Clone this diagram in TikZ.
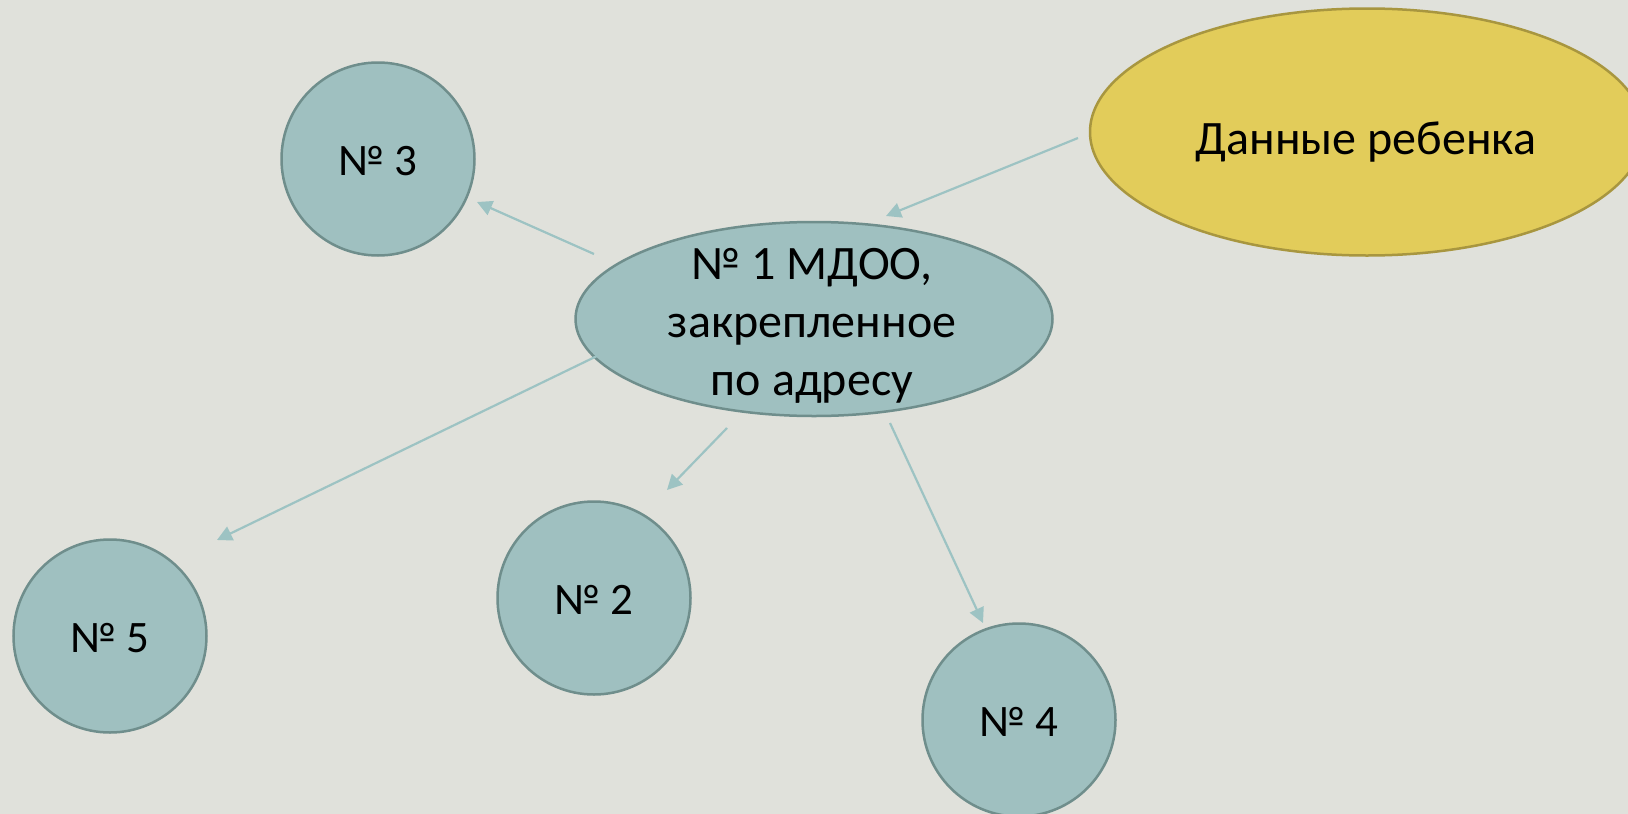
\documentclass[tikz,border=0pt]{standalone}
\usepackage{fontspec}
\setmainfont{Carlito}
\usetikzlibrary{shapes.geometric,arrows.meta}
\definecolor{bg}{HTML}{E0E1DB}
\definecolor{tealfill}{HTML}{9FC0C0}
\definecolor{tealdraw}{HTML}{6F8E8C}
\definecolor{arrowc}{HTML}{9DC3C3}
\definecolor{yfill}{HTML}{E2CC5A}
\definecolor{ydraw}{HTML}{A8963F}
\begin{document}
\begin{tikzpicture}[x=1pt,y=-1pt,
  circ/.style={circle, fill=tealfill, draw=tealdraw, line width=2.5pt,
    minimum size=193pt, inner sep=0pt, font=\fontsize{45}{54}\selectfont,
    text height=32pt, text depth=0pt},
  mainell/.style={ellipse, fill=tealfill, draw=tealdraw, line width=2.5pt,
    minimum width=477pt, minimum height=194pt, inner sep=0pt},
  yell/.style={ellipse, fill=yfill, draw=ydraw, line width=2.5pt,
    minimum width=554pt, minimum height=247pt, inner sep=0pt},
  bigtxt/.style={font=\fontsize{48}{58}\selectfont, align=center, inner sep=0pt},
  conn/.style={draw=arrowc, line width=2.2pt,
    -{Triangle[length=15pt,width=15pt]}}
]
\fill[bg] (0,0) rectangle (1628,814);
\useasboundingbox (0,0) rectangle (1628,814);

% nodes
\node[yell] (data) at (1367,132) {};
\node[bigtxt, anchor=base] (datatxt) at (1366,154) {Данные ребенка};
\node[mainell] (main) at (814,319) {};
\node[bigtxt] (maintxt) at (812,326) {№ 1 МДОО,\\закрепленное\\по адресу};
\node[circ] (n3) at (378,159) {№ 3};
\node[circ] (n5) at (110,636) {№ 5};
\node[circ] (n2) at (594,598) {№ 2};
\node[circ] (n4) at (1019,720) {№ 4};

% connector end points
\coordinate (d0) at (1078,138);
\coordinate (d1) at (886,216);
\coordinate (a3s) at (594,254);
\coordinate (a3e) at (477,202);
\coordinate (a5s) at (597,356);
\coordinate (a5e) at (217,540);
\coordinate (a2s) at (727,428);
\coordinate (a2e) at (667,490);
\coordinate (a4s) at (890,423);
\coordinate (a4e) at (983,623);

\draw[conn] (d0) -- (d1);
\draw[conn] (a3s) -- (a3e);
\draw[conn] (a5s) -- (a5e);
\draw[conn] (a2s) -- (a2e);
\draw[conn] (a4s) -- (a4e);
\end{tikzpicture}
\end{document}
